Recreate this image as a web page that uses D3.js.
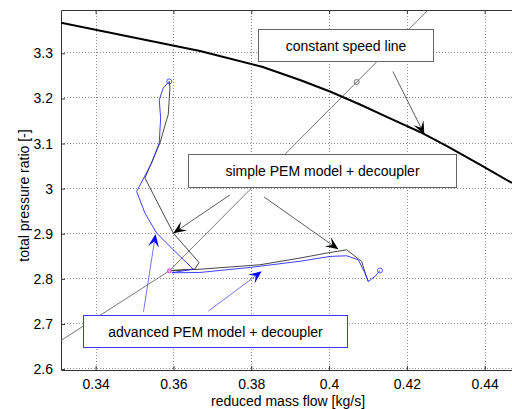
<!DOCTYPE html>
<html>
<head>
<meta charset="utf-8">
<script src="https://cdn.jsdelivr.net/npm/d3@7"></script>
<style>
  html, body { margin: 0; padding: 0; background: #fff; }
  svg { display: block; }
  text { font-family: "Liberation Sans", Arial, Helvetica, sans-serif; fill: #000; }
</style>
</head>
<body>
<script>
// Compressor map: constant speed line and the operating-point transients
const xTicks = [0.34, 0.36, 0.38, 0.40, 0.42, 0.44];
const xTickLabels = ["0.34", "0.36", "0.38", "0.4", "0.42", "0.44"];
const yTicks = [2.6, 2.7, 2.8, 2.9, 3.0, 3.1, 3.2, 3.3];
const yTickLabels = ["2.6", "2.7", "2.8", "2.9", "3", "3.1", "3.2", "3.3"];

// constant speed line
const speedX = [0.3311, 0.36683, 0.38276, 0.39253, 0.40024, 0.40795, 0.41566, 0.42337, 0.43031, 0.43879, 0.44702];
const speedY = [3.3678, 3.3051, 3.2703, 3.2408, 3.2153, 3.1865, 3.1559, 3.1256, 3.0945, 3.0535, 3.0125];

// setpoint path (thin gray)
const setX = [0.3311, 0.35897, 0.4071, 0.43];
const setY = [2.6634, 2.818, 3.2364, 3.4355];

// simple PEM model + decoupler
const simpleX = [0.35892, 0.3591, 0.35866, 0.35825, 0.35653, 0.35267, 0.35995, 0.36656, 0.36553, 0.35936,
                 0.36681, 0.38224, 0.39252, 0.39938, 0.40452, 0.40838, 0.40967, 0.41008];
const simpleY = [3.2381, 3.2231, 3.1639, 3.1528, 3.1011, 3.0235, 2.9016, 2.8364, 2.8217, 2.8184,
                 2.8213, 2.8313, 2.8461, 2.8572, 2.8645, 2.8386, 2.8024, 2.7942];

// advanced PEM model + decoupler
const advX = [0.35892, 0.35738, 0.35635, 0.35671, 0.35635, 0.3544, 0.35054, 0.35267, 0.35568, 0.35995, 0.36509,
              0.35961, 0.36681, 0.37967, 0.39252, 0.40023, 0.40452, 0.40751, 0.40923, 0.41008, 0.4118, 0.41308];
const advY = [3.2377, 3.2231, 3.1971, 3.1565, 3.1011, 3.0568, 2.9938, 2.9459, 2.9016, 2.8645, 2.8217,
              2.8135, 2.8142, 2.8253, 2.839, 2.8497, 2.8512, 2.8424, 2.8129, 2.7942, 2.8053, 2.8186];

// annotation boxes [x0, x1, yTop, yBottom] and arrows [[x0,y0],[x1,y1]]
const speedBox = [0.3818, 0.4266, 3.3532, 3.2829];
const simpleBox = [0.3637, 0.4326, 3.0761, 3.0043];
const advBox = [0.3368, 0.4047, 2.7199, 2.6489];
const speedArrows = [[[0.4164, 3.2597], [0.4245, 3.120]]];
const simpleArrows = [[[0.3745, 2.9859], [0.35996, 2.901]], [[0.3833, 2.9815], [0.4024, 2.8655]]];
const advArrows = [[[0.3523, 2.7272], [0.3554, 2.8994]], [[0.3690, 2.7287], [0.3827, 2.8167]]];

const W = 512, H = 409;
const mLeft = 61, mTop = 10, mRight = 523.6, mBottom = 370;

const x = d3.scaleLinear().domain([0.3311, 0.45]).range([mLeft, mRight]);
const y = d3.scaleLinear().domain([2.598, 3.396]).range([mBottom, mTop]);

const svg = d3.select("body").append("svg").attr("width", W).attr("height", H);

svg.append("defs").append("clipPath").attr("id", "plotClip")
  .append("rect").attr("x", mLeft).attr("y", mTop).attr("width", mRight - mLeft).attr("height", mBottom - mTop);

// dotted grid
const grid = svg.append("g").attr("stroke", "#8c8c8c").attr("stroke-width", 1).attr("stroke-dasharray", "1,2");
grid.selectAll(".gx").data(xTicks).join("line")
  .attr("x1", d => Math.round(x(d)) + 0.5).attr("x2", d => Math.round(x(d)) + 0.5)
  .attr("y1", mTop).attr("y2", mBottom);
grid.selectAll(".gy").data(yTicks).join("line")
  .attr("y1", d => Math.round(y(d)) - 0.5).attr("y2", d => Math.round(y(d)) - 0.5)
  .attr("x1", mLeft).attr("x2", mRight);

// axes (ticks point inward, box drawn on top)
const xAxis = d3.axisBottom(x).tickValues(xTicks).tickFormat((d, i) => xTickLabels[i]).tickSizeInner(-4).tickSizeOuter(0).tickPadding(9);
const xAxisTop = d3.axisTop(x).tickValues(xTicks).tickFormat("").tickSizeInner(-4).tickSizeOuter(0);
const yAxis = d3.axisLeft(y).tickValues(yTicks).tickFormat((d, i) => yTickLabels[i]).tickSizeInner(-4).tickSizeOuter(0).tickPadding(8);
const gx = svg.append("g").attr("transform", `translate(0,${mBottom})`).call(xAxis);
const gxt = svg.append("g").attr("transform", `translate(0,${mTop})`).call(xAxisTop);
const gy = svg.append("g").attr("transform", `translate(${mLeft},0)`).call(yAxis);
[gx, gxt, gy].forEach(g => {
  g.select(".domain").attr("stroke", "#333");
  g.selectAll(".tick line").attr("stroke", "#333");
  g.selectAll(".tick text").attr("font-size", 14).attr("font-family", "Liberation Sans, Arial, sans-serif").attr("fill", "#000");
});

// axis titles
svg.append("text").attr("x", 288).attr("y", 406).attr("text-anchor", "middle").attr("font-size", 14)
  .text("reduced mass flow [kg/s]");
svg.append("text").attr("transform", "translate(29,195.5) rotate(-90)").attr("text-anchor", "middle").attr("font-size", 14)
  .text("total pressure ratio [-]");

const plot = svg.append("g").attr("clip-path", "url(#plotClip)");
const line = d3.line().x(d => x(d[0])).y(d => y(d[1]));
const zip = (a, b) => a.map((v, i) => [v, b[i]]);

plot.append("path").attr("d", line(zip(setX, setY))).attr("fill", "none").attr("stroke", "#555").attr("stroke-width", 0.8);
plot.append("path").attr("d", line(zip(speedX, speedY))).attr("fill", "none").attr("stroke", "#000").attr("stroke-width", 2)
  .attr("stroke-linejoin", "round");
plot.append("path").attr("d", line(zip(simpleX, simpleY))).attr("fill", "none").attr("stroke", "#333").attr("stroke-width", 0.9);
plot.append("path").attr("d", line(zip(advX, advY))).attr("fill", "none").attr("stroke", "#2a2aff").attr("stroke-width", 0.9);

// markers
plot.append("circle").attr("cx", x(setX[2])).attr("cy", y(setY[2])).attr("r", 2.5).attr("fill", "none").attr("stroke", "#555").attr("stroke-width", 0.8);
plot.append("circle").attr("cx", x(advX[0])).attr("cy", y(advY[0])).attr("r", 2.5).attr("fill", "none").attr("stroke", "#4040ff").attr("stroke-width", 0.9);
plot.append("circle").attr("cx", x(advX[advX.length - 1])).attr("cy", y(advY[advY.length - 1])).attr("r", 2.5).attr("fill", "none").attr("stroke", "#4040ff").attr("stroke-width", 0.9);
plot.append("circle").attr("cx", x(setX[1])).attr("cy", y(setY[1])).attr("r", 2).attr("fill", "#f0a0f0").attr("stroke", "#e040e0").attr("stroke-width", 1);

// annotation arrows
function arrow(g, a, color, lineColor) {
  const x0 = x(a[0][0]), y0 = y(a[0][1]), x1 = x(a[1][0]), y1 = y(a[1][1]);
  const dx = x1 - x0, dy = y1 - y0, len = Math.hypot(dx, dy);
  const ux = dx / len, uy = dy / len, nx = -uy, ny = ux;
  const L = 13, hw = 5.5, notch = 7.5;
  g.append("line").attr("x1", x0).attr("y1", y0).attr("x2", x1 - ux * notch).attr("y2", y1 - uy * notch)
    .attr("stroke", lineColor).attr("stroke-width", 0.8);
  const pts = [
    [x1, y1],
    [x1 - ux * L + nx * hw, y1 - uy * L + ny * hw],
    [x1 - ux * notch, y1 - uy * notch],
    [x1 - ux * L - nx * hw, y1 - uy * L - ny * hw]
  ];
  g.append("path").attr("d", "M" + pts.map(p => p.join(",")).join("L") + "Z").attr("fill", color).attr("stroke", "none");
}
const ann = svg.append("g");
speedArrows.forEach(a => arrow(ann, a, "#000", "#333"));
simpleArrows.forEach(a => arrow(ann, a, "#000", "#333"));
advArrows.forEach(a => arrow(ann, a, "#0000ff", "#5050ff"));

function textBox(g, b, label, stroke) {
  const x0 = Math.round(x(b[0])) + 0.5, x1 = Math.round(x(b[1])) + 0.5;
  const y0 = Math.round(y(b[2])) + 0.5, y1 = Math.round(y(b[3])) + 0.5;
  g.append("rect").attr("x", x0).attr("y", y0).attr("width", x1 - x0).attr("height", y1 - y0)
    .attr("fill", "#fff").attr("stroke", stroke).attr("stroke-width", 1);
  g.append("text").attr("x", (x0 + x1) / 2).attr("y", (y0 + y1) / 2 + 5).attr("text-anchor", "middle")
    .attr("font-size", 14).text(label);
}
textBox(ann, speedBox, "constant speed line", "#666");
textBox(ann, simpleBox, "simple PEM model + decoupler", "#666");
textBox(ann, advBox, "advanced PEM model + decoupler", "#3a3aff");
</script>
</body>
</html>
